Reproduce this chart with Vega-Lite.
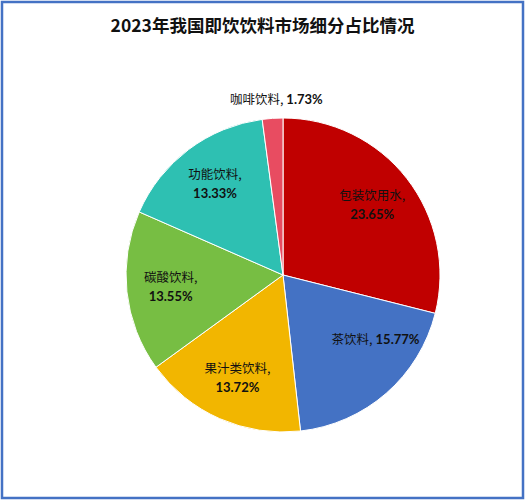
{
  "$schema": "https://vega.github.io/schema/vega-lite/v6.json",
  "width": 521,
  "height": 496,
  "padding": 2,
  "autosize": {"type": "none"},
  "background": "white",
  "config": {"view": {"stroke": null}},
  "title": {
    "text": "2023年我国即饮饮料市场细分占比情况",
    "font": "Noto Sans CJK SC",
    "fontSize": 17.5,
    "fontWeight": "bold",
    "color": "#111111",
    "anchor": "middle",
    "baseline": "alphabetic",
    "offset": -49
  },
  "datasets": {
    "shares": [
      {"idx": 1, "name": "包装饮用水", "label": "包装饮用水,", "value": 0.2365},
      {"idx": 2, "name": "茶饮料", "label": "茶饮料,", "value": 0.1577},
      {"idx": 3, "name": "果汁类饮料", "label": "果汁类饮料,", "value": 0.1372},
      {"idx": 4, "name": "碳酸饮料", "label": "碳酸饮料,", "value": 0.1355},
      {"idx": 5, "name": "功能饮料", "label": "功能饮料,", "value": 0.1333},
      {"idx": 6, "name": "咖啡饮料", "label": "咖啡饮料,", "value": 0.0173}
    ],
    "frame": [{"frame": 1}]
  },
  "layer": [
    {
      "data": {"name": "frame"},
      "mark": {"type": "rect", "fill": "white", "stroke": "#4472C4", "strokeWidth": 2.5},
      "encoding": {}
    },
    {
      "data": {"name": "shares"},
      "mark": {"type": "arc", "outerRadius": 157, "stroke": "white", "strokeWidth": 1, "xOffset": 20.5, "yOffset": 25},
      "encoding": {
        "theta": {"field": "value", "type": "quantitative", "stack": true},
        "order": {"field": "idx", "type": "quantitative"},
        "color": {
          "field": "name",
          "type": "nominal",
          "scale": {
            "domain": ["包装饮用水", "茶饮料", "果汁类饮料", "碳酸饮料", "功能饮料", "咖啡饮料"],
            "range": ["#C00000", "#4472C4", "#F2B600", "#77BE43", "#2EC0B2", "#E84C61"]
          },
          "legend": null
        }
      }
    },
    {
      "data": {"name": "shares"},
      "mark": {"type": "text", "radius": 113, "dy": -9.5, "xOffset": 20.5, "yOffset": 25, "font": "Noto Sans CJK SC", "fontSize": 12.5, "color": "#111111"},
      "encoding": {
        "theta": {"field": "value", "type": "quantitative", "stack": true},
        "order": {"field": "idx", "type": "quantitative"},
        "text": {"field": "label"},
        "opacity": {"condition": {"test": "datum.idx === 2 || datum.idx === 6", "value": 0}, "value": 1}
      }
    },
    {
      "data": {"name": "shares"},
      "mark": {"type": "text", "radius": 113, "dy": 9.5, "xOffset": 20.5, "yOffset": 25, "font": "Lato", "fontWeight": "bold", "fontSize": 13, "color": "#111111"},
      "encoding": {
        "theta": {"field": "value", "type": "quantitative", "stack": true},
        "order": {"field": "idx", "type": "quantitative"},
        "text": {"field": "value", "type": "quantitative", "format": ".2%"},
        "opacity": {"condition": {"test": "datum.idx === 2 || datum.idx === 6", "value": 0}, "value": 1}
      }
    },
    {
      "data": {"name": "shares"},
      "mark": {"type": "text", "radius": 86, "align": "right", "dx": 33, "xOffset": 20.5, "yOffset": 25, "font": "Noto Sans CJK SC", "fontSize": 12.5, "color": "#111111"},
      "encoding": {
        "theta": {"field": "value", "type": "quantitative", "stack": true},
        "order": {"field": "idx", "type": "quantitative"},
        "text": {"field": "label"},
        "opacity": {"condition": {"test": "datum.idx === 2", "value": 1}, "value": 0}
      }
    },
    {
      "data": {"name": "shares"},
      "mark": {"type": "text", "radius": 86, "align": "left", "dx": 36, "xOffset": 20.5, "yOffset": 25, "font": "Lato", "fontWeight": "bold", "fontSize": 13, "color": "#111111"},
      "encoding": {
        "theta": {"field": "value", "type": "quantitative", "stack": true},
        "order": {"field": "idx", "type": "quantitative"},
        "text": {"field": "value", "type": "quantitative", "format": ".2%"},
        "opacity": {"condition": {"test": "datum.idx === 2", "value": 1}, "value": 0}
      }
    },
    {
      "data": {"name": "shares"},
      "mark": {"type": "text", "radius": 175, "align": "right", "dx": 12, "xOffset": 20.5, "yOffset": 25, "font": "Noto Sans CJK SC", "fontSize": 12.5, "color": "#111111"},
      "encoding": {
        "theta": {"field": "value", "type": "quantitative", "stack": true},
        "order": {"field": "idx", "type": "quantitative"},
        "text": {"field": "label"},
        "opacity": {"condition": {"test": "datum.idx === 6", "value": 1}, "value": 0}
      }
    },
    {
      "data": {"name": "shares"},
      "mark": {"type": "text", "radius": 175, "align": "left", "dx": 15, "xOffset": 20.5, "yOffset": 25, "font": "Lato", "fontWeight": "bold", "fontSize": 13, "color": "#111111"},
      "encoding": {
        "theta": {"field": "value", "type": "quantitative", "stack": true},
        "order": {"field": "idx", "type": "quantitative"},
        "text": {"field": "value", "type": "quantitative", "format": ".2%"},
        "opacity": {"condition": {"test": "datum.idx === 6", "value": 1}, "value": 0}
      }
    }
  ]
}
